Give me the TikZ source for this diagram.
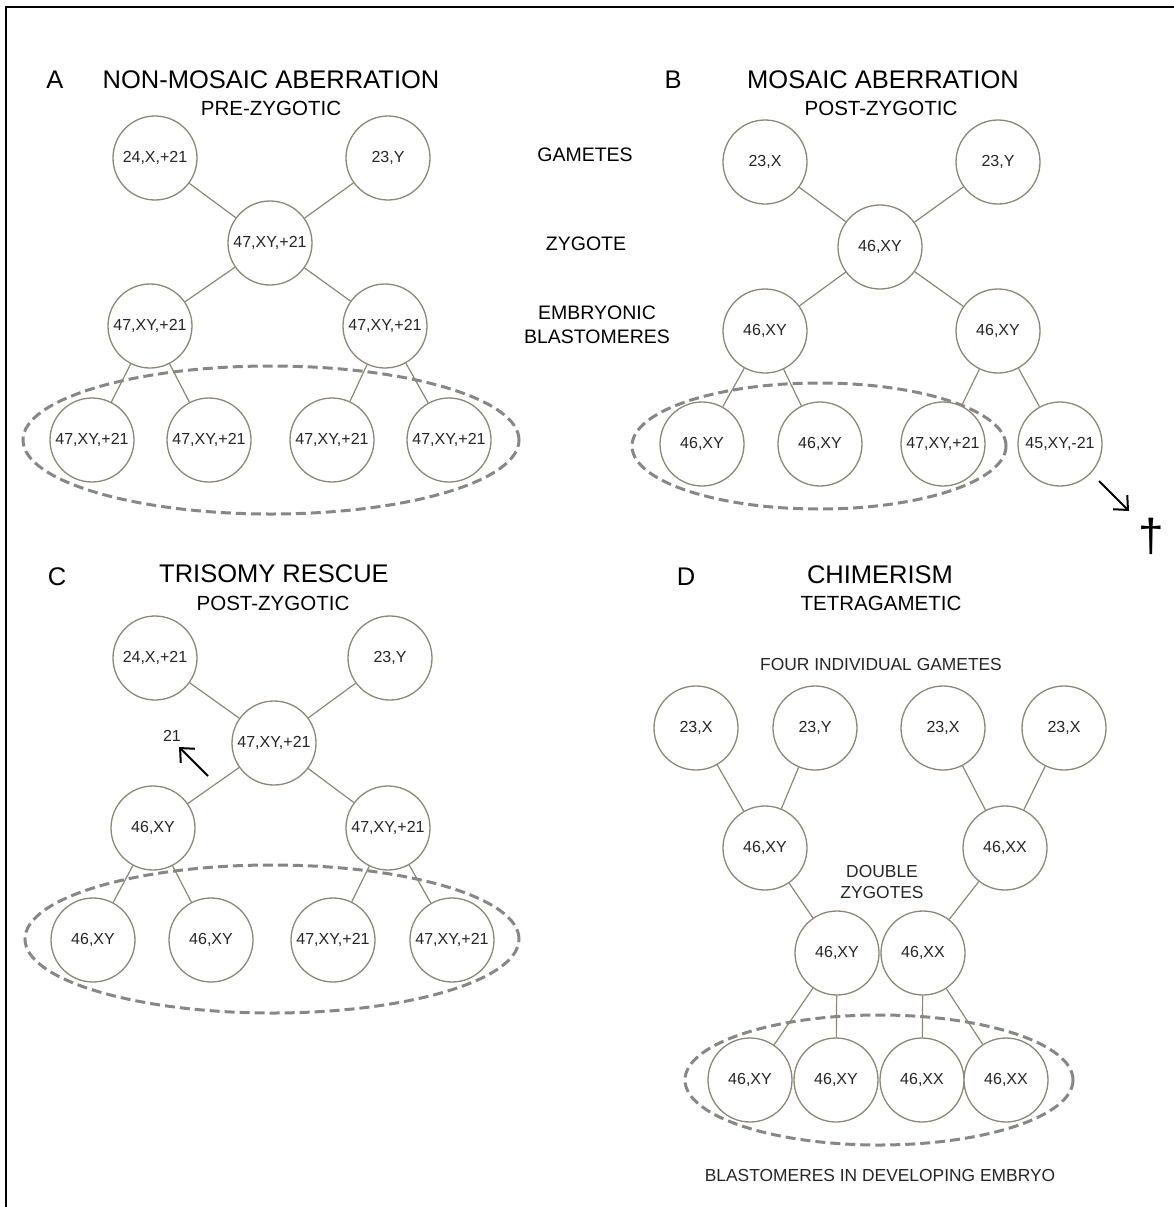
\documentclass[tikz,border=0pt]{standalone}
\usepackage{fontspec}
\setmainfont{Liberation Sans}
\usetikzlibrary{arrows.meta}
\definecolor{circ}{RGB}{140,135,120}
\definecolor{dashc}{RGB}{135,135,135}
\tikzset{
  cell/.style={circle, draw=circ, line width=1.3pt, fill=white, minimum size=84pt, inner sep=0pt, font=\fontsize{16}{19}\selectfont, text=black!85},
  conn/.style={draw=circ, line width=1.2pt},
  blob/.style={draw=dashc, line width=3pt, dash pattern=on 10pt off 5pt},
  bigtitle/.style={font=\fontsize{25.5}{30}\selectfont, inner sep=0pt},
  subtitle/.style={font=\fontsize{20.5}{24}\selectfont, inner sep=0pt},
  midlabel/.style={font=\fontsize{19.5}{24}\selectfont, inner sep=0pt, align=center},
  smalllabel/.style={font=\fontsize{17.4}{20}\selectfont, inner sep=0pt, align=center, text=black!85},
  arr/.style={line width=2pt, -{Straight Barb[length=11pt,width=20pt]}},
}
\begin{document}
\begin{tikzpicture}[x=1pt,y=-1pt]
\useasboundingbox (0,0) rectangle (1174,1207);
\draw[line width=1.5pt] (6,1207) -- (6,7) -- (1174,7);

% ---------------- Panel A ----------------
\node[bigtitle] (Alet) at (55,80) {A};
\node[bigtitle] (Atit) at (271,80) {NON-MOSAIC ABERRATION};
\node[subtitle] (Asub) at (271,108) {PRE-ZYGOTIC};
\draw[blob] (271,440) ellipse [x radius=248pt, y radius=74pt];
\node[cell] (ag1) at (155,158) {24,X,+21};
\node[cell] (ag2) at (388,158) {23,Y};
\node[cell] (az) at (270,243) {47,XY,+21};
\node[cell] (aL) at (150,326) {47,XY,+21};
\node[cell] (aR) at (385,326) {47,XY,+21};
\node[cell] (ab1) at (92,440) {47,XY,+21};
\node[cell] (ab2) at (209,440) {47,XY,+21};
\node[cell] (ab3) at (332,440) {47,XY,+21};
\node[cell] (ab4) at (449,440) {47,XY,+21};
\draw[conn] (ag1) -- (az);
\draw[conn] (ag2) -- (az);
\draw[conn] (az) -- (aL);
\draw[conn] (az) -- (aR);
\draw[conn] (aL) -- (ab1);
\draw[conn] (aL) -- (ab2);
\draw[conn] (aR) -- (ab3);
\draw[conn] (aR) -- (ab4);

% middle labels
\node[midlabel] (lgam) at (585,155) {GAMETES};
\node[midlabel] (lzyg) at (586,244) {ZYGOTE};
\node[midlabel] (lemb) at (597,313) {EMBRYONIC};
\node[midlabel] (lbla) at (597,337) {BLASTOMERES};

% ---------------- Panel B ----------------
\node[bigtitle] (Blet) at (673,80) {B};
\node[bigtitle] (Btit) at (883,80) {MOSAIC ABERRATION};
\node[subtitle] (Bsub) at (881,108) {POST-ZYGOTIC};
\draw[blob] (819,446) ellipse [x radius=187pt, y radius=63pt];
\node[cell] (bg1) at (765,162) {23,X};
\node[cell] (bg2) at (998,162) {23,Y};
\node[cell] (bz) at (880,247) {46,XY};
\node[cell] (bL) at (765,331) {46,XY};
\node[cell] (bR) at (998,331) {46,XY};
\node[cell] (bb1) at (702,444) {46,XY};
\node[cell] (bb2) at (820,444) {46,XY};
\node[cell] (bb3) at (943,444) {47,XY,+21};
\node[cell] (bb4) at (1060,444) {45,XY,-21};
\draw[conn] (bg1) -- (bz);
\draw[conn] (bg2) -- (bz);
\draw[conn] (bz) -- (bL);
\draw[conn] (bz) -- (bR);
\draw[conn] (bL) -- (bb1);
\draw[conn] (bL) -- (bb2);
\draw[conn] (bR) -- (bb3);
\draw[conn] (bR) -- (bb4);
\node[font=\fontsize{46}{48}\selectfont, inner sep=0pt] (dagger) at (1151,536) {†};
\coordinate (bas) at (1099,481);
\coordinate (bae) at (1129,511);
\draw[arr] (bas) -- (bae);

% ---------------- Panel C ----------------
\node[bigtitle] (Clet) at (57,577) {C};
\node[bigtitle] (Ctit) at (274,574) {TRISOMY RESCUE};
\node[subtitle] (Csub) at (273,603) {POST-ZYGOTIC};
\draw[blob] (272,939) ellipse [x radius=247pt, y radius=74pt];
\node[cell] (cg1) at (155,658) {24,X,+21};
\node[cell] (cg2) at (390,658) {23,Y};
\node[cell] (cz) at (274,743) {47,XY,+21};
\node[cell] (cL) at (153,828) {46,XY};
\node[cell] (cR) at (388,828) {47,XY,+21};
\node[cell] (cb1) at (93,940) {46,XY};
\node[cell] (cb2) at (211,940) {46,XY};
\node[cell] (cb3) at (333,940) {47,XY,+21};
\node[cell] (cb4) at (452,940) {47,XY,+21};
\draw[conn] (cg1) -- (cz);
\draw[conn] (cg2) -- (cz);
\draw[conn] (cz) -- (cL);
\draw[conn] (cz) -- (cR);
\draw[conn] (cL) -- (cb1);
\draw[conn] (cL) -- (cb2);
\draw[conn] (cR) -- (cb3);
\draw[conn] (cR) -- (cb4);
\node[font=\fontsize{16}{19}\selectfont, inner sep=0pt, text=black!85] (c21) at (172,736) {21};
\coordinate (cas) at (208,776);
\coordinate (cae) at (179,747);
\draw[arr] (cas) -- (cae);

% ---------------- Panel D ----------------
\node[bigtitle] (Dlet) at (686,577) {D};
\node[bigtitle] (Dtit) at (880,575) {CHIMERISM};
\node[subtitle] (Dsub) at (881,603) {TETRAGAMETIC};
\node[smalllabel] (four) at (881,665) {FOUR INDIVIDUAL GAMETES};
\draw[blob] (879,1080) ellipse [x radius=194pt, y radius=65pt];
\node[cell] (dg1) at (696,728) {23,X};
\node[cell] (dg2) at (815,728) {23,Y};
\node[cell] (dg3) at (943,728) {23,X};
\node[cell] (dg4) at (1064,728) {23,X};
\node[cell] (dz1) at (765,848) {46,XY};
\node[cell] (dz2) at (1005,848) {46,XX};
\node[smalllabel] (dbl) at (882,882) {DOUBLE\\[1pt]ZYGOTES};
\node[cell] (dd1) at (837,953) {46,XY};
\node[cell] (dd2) at (923,953) {46,XX};
\node[cell] (db1) at (750,1080) {46,XY};
\node[cell] (db2) at (836,1080) {46,XY};
\node[cell] (db3) at (922,1080) {46,XX};
\node[cell] (db4) at (1006,1080) {46,XX};
\draw[conn] (dg1) -- (dz1);
\draw[conn] (dg2) -- (dz1);
\draw[conn] (dg3) -- (dz2);
\draw[conn] (dg4) -- (dz2);
\draw[conn] (dz1) -- (dd1);
\draw[conn] (dz2) -- (dd2);
\draw[conn] (dd1) -- (db1);
\draw[conn] (dd1) -- (db2);
\draw[conn] (dd2) -- (db3);
\draw[conn] (dd2) -- (db4);
\node[smalllabel] (blast) at (880,1175) {BLASTOMERES IN DEVELOPING EMBRYO};
\end{tikzpicture}
\end{document}
